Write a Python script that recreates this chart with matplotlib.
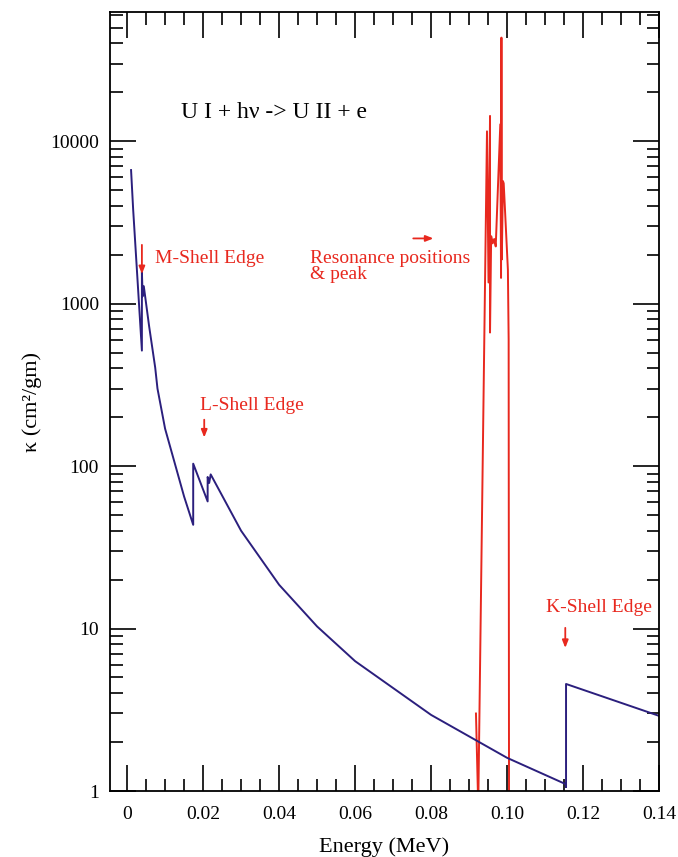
"""
U I photoionization opacity vs energy
"""
import matplotlib
matplotlib.use('Agg')
import matplotlib.pyplot as plt
from matplotlib.ticker import MultipleLocator, LogLocator, NullFormatter, FixedFormatter, FixedLocator

plt.rcParams['font.family'] = ['Liberation Serif', 'DejaVu Serif']

# continuum (blue)
cont_e = [0.00105, 0.0016, 0.0039, 0.0039, 0.0041, 0.0044, 0.0058, 0.0074, 0.008, 0.010,
          0.015, 0.0174, 0.0174, 0.0212, 0.0212, 0.0216, 0.0220, 0.030, 0.040, 0.050,
          0.060, 0.080, 0.100, 0.1155, 0.1155, 0.1155, 0.140]
cont_k = [6640, 3800, 514, 1570, 1110, 1280, 726, 404, 300, 170,
          65, 43.5, 103.5, 60.6, 85.7, 78.7, 88.9, 40, 18.6, 10.3,
          6.3, 2.94, 1.6, 1.1, 1.06, 4.56, 2.9]

# resonances (red)
res_e = [0.0918, 0.0924, 0.0947, 0.0951, 0.0955, 0.0955, 0.0958, 0.0962, 0.0966, 0.0970,
         0.0982, 0.0984, 0.0985, 0.0986, 0.0989, 0.0991, 0.1002, 0.1004, 0.1005]
res_k = [3.0, 0.8, 11500, 1350, 14300, 664, 2600, 2350, 2500, 2250,
         12700, 1440, 43400, 1870, 5680, 5500, 1620, 600, 0.8]

red = '#e8281e'
navy = '#2b1f7d'

fig = plt.figure(figsize=(6.78, 8.57), dpi=100)
ax = fig.add_axes([0.1622, 0.077, 0.81, 0.909])

ax.plot(res_e, res_k, color=red, lw=1.4)
ax.plot(cont_e, cont_k, color=navy, lw=1.4)

ax.set_yscale('log')
ax.set_xlim(-0.0045, 0.14)
ax.set_ylim(1, 62400)

xt = [0, 0.02, 0.04, 0.06, 0.08, 0.10, 0.12, 0.14]
ax.xaxis.set_major_locator(FixedLocator(xt))
ax.xaxis.set_major_formatter(FixedFormatter(['0', '0.02', '0.04', '0.06', '0.08', '0.10', '0.12', '0.14']))
ax.xaxis.set_minor_locator(MultipleLocator(0.005))
ax.yaxis.set_major_locator(FixedLocator([1, 10, 100, 1000, 10000]))
ax.yaxis.set_major_formatter(FixedFormatter(['1', '10', '100', '1000', '10000']))
ax.yaxis.set_minor_locator(LogLocator(base=10, subs=range(2, 10), numticks=20))
ax.yaxis.set_minor_formatter(NullFormatter())

ax.tick_params(which='both', direction='in', top=True, right=True, labelsize=14, width=1.2)
ax.tick_params(which='major', length=19)
ax.tick_params(which='minor', length=9)
ax.tick_params(axis='x', pad=11)
ax.tick_params(axis='y', pad=8)
for s in ax.spines.values():
    s.set_linewidth(1.3)

ax.set_xlabel('Energy (MeV)', fontsize=16, labelpad=10)
ax.set_ylabel('κ (cm²/gm)', fontsize=16, labelpad=6)

ax.text(0.0143, 15000, 'U I + hν -> U II + e', fontsize=17, va='center')

arrow = dict(arrowstyle='-|>,head_length=0.45,head_width=0.18', color=red, lw=1.3,
             shrinkA=0, shrinkB=0)

ax.text(0.0074, 1900, 'M-Shell Edge', color=red, fontsize=14, va='center')
ax.annotate('', xy=(0.0039, 1520), xytext=(0.0039, 2300), arrowprops=arrow)

ax.text(0.0192, 236, 'L-Shell Edge', color=red, fontsize=14, va='center')
ax.annotate('', xy=(0.0203, 150), xytext=(0.0203, 193), arrowprops=arrow)

ax.text(0.0482, 1900, 'Resonance positions', color=red, fontsize=14, va='center')
ax.text(0.0482, 1510, '& peak', color=red, fontsize=14, va='center')
ax.annotate('', xy=(0.0806, 2520), xytext=(0.0753, 2520), arrowprops=arrow)

ax.text(0.1103, 13.4, 'K-Shell Edge', color=red, fontsize=14, va='center')
ax.annotate('', xy=(0.1153, 7.6), xytext=(0.1153, 10.1), arrowprops=arrow)

fig.savefig('out.png', dpi=100)
